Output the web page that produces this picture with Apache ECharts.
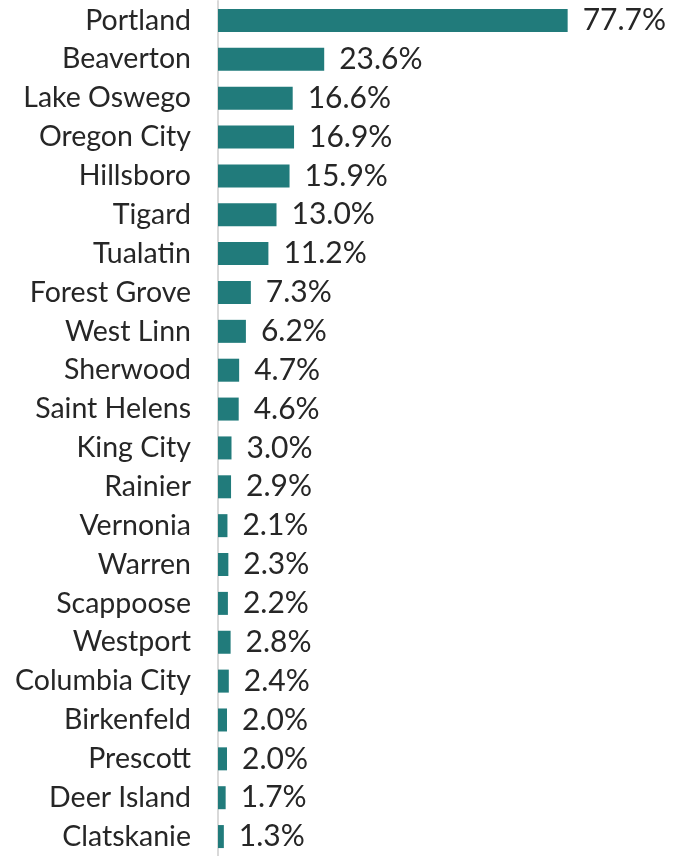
<!DOCTYPE html>
<html>
<head>
<meta charset="utf-8">
<script src="https://cdn.jsdelivr.net/npm/echarts@6/dist/echarts.min.js"></script>
<style>
  html, body { margin: 0; padding: 0; background: #fff; }
  #chart { width: 674px; height: 856px; }
</style>
</head>
<body>
<div id="chart"></div>
<script>
// cities, top to bottom
const cities = ['Portland', 'Beaverton', 'Lake Oswego', 'Oregon City', 'Hillsboro', 'Tigard', 'Tualatin',
  'Forest Grove', 'West Linn', 'Sherwood', 'Saint Helens', 'King City', 'Rainier', 'Vernonia', 'Warren',
  'Scappoose', 'Westport', 'Columbia City', 'Birkenfeld', 'Prescott', 'Deer Island', 'Clatskanie']
const shares = [77.7, 23.6, 16.6, 16.9, 15.9, 13.0, 11.2, 7.3, 6.2, 4.7, 4.6, 3.0, 2.9, 2.1, 2.3, 2.2, 2.8, 2.4, 2.0, 2.0, 1.7, 1.3]

const chart = echarts.init(document.getElementById('chart'))
const font = 'Lato, "Open Sans", sans-serif'

chart.setOption({
  animation: false,
  grid: { left: 218, top: 1, width: 450, height: 861 },
  xAxis: {
    type: 'value',
    min: 0,
    max: 100,
    show: false
  },
  yAxis: {
    type: 'category',
    inverse: true,
    data: cities,
    axisLine: { show: true, lineStyle: { color: '#d9d9d9', width: 2 } },
    axisTick: { show: false },
    axisLabel: { color: '#262626', fontFamily: font, fontSize: 28.5, margin: 27 }
  },
  series: [{
    type: 'bar',
    data: shares,
    barWidth: 23,
    itemStyle: { color: '#217b7b' },
    label: {
      show: true,
      position: 'right',
      distance: 15,
      color: '#262626',
      fontFamily: font,
      fontSize: 30,
      formatter: p => p.value.toFixed(1) + '%'
    }
  }]
})
</script>
</body>
</html>
